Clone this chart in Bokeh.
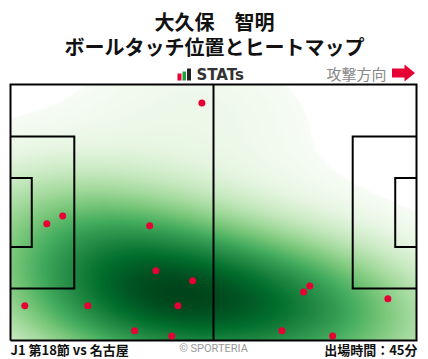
import numpy as np
from bokeh.plotting import figure
from bokeh.models import Range1d, LinearColorMapper, Label, BoxAnnotation, PolyAnnotation
from bokeh.palettes import Greens256
from bokeh.embed import file_html
from bokeh.resources import INLINE

# ---------------- data ----------------
PITCH_LENGTH = 105.0
PITCH_WIDTH = 68.0

touch_x = [49.5, 13.5, 9.4, 36.0, 37.6, 47.1, 3.7, 20.0, 43.3, 32.1, 41.7, 77.4, 75.8, 97.6, 70.2, 83.3]
touch_y = [63.1, 33.1, 31.0, 30.5, 18.5, 15.9, 9.2, 9.2, 9.2, 2.6, 1.2, 14.5, 12.9, 11.1, 2.6, 1.2]

title_line1 = "大久保　智明"
title_line2 = "ボールタッチ位置とヒートマップ"
logo_text = "STATs"
direction_text = "攻撃方向"
match_text = "J1 第18節 vs 名古屋"
credit_text = "© SPORTERIA"
minutes_text = "出場時間：45分"

# ---------------- layout ----------------
W, H = 428, 359
OX, OY = 0, 0          # page offset of the figure
PL, PT = 10, 84        # pitch left / top in page pixels
PW, PH = 406, 256      # pitch size in pixels
PX_X = PW / PITCH_LENGTH
PX_Y = PH / PITCH_WIDTH
x0 = -(PL - OX) / PX_X
x1 = PITCH_LENGTH + (OX + W - PL - PW) / PX_X
y0 = -(OY + H - PT - PH) / PX_Y
y1 = PITCH_WIDTH + (PT - OY) / PX_Y

p = figure(width=W, height=H, x_range=Range1d(x0, x1), y_range=Range1d(y0, y1),
           output_backend="svg", toolbar_location=None,
           x_axis_location=None, y_axis_location=None,
           min_border=0, outline_line_color=None,
           background_fill_color="white", border_fill_color="white")
p.grid.visible = False

# ---------------- heat map (KDE of touches) ----------------
pts = np.vstack([touch_x, touch_y])
n = pts.shape[1]
factor = n ** (-1.0 / 6.0) * 1.45
cov = np.cov(pts) * factor ** 2
inv = np.linalg.inv(cov)


def kde(X, Y):
    dx = X[..., None] - pts[0][None, None, :]
    dy = Y[..., None] - pts[1][None, None, :]
    q = inv[0, 0] * dx * dx + 2 * inv[0, 1] * dx * dy + inv[1, 1] * dy * dy
    return np.exp(-0.5 * q).sum(axis=2)


# wider grid (as a KDE plot's "cut" would) for the 5 % iso-proportion threshold
ex, ey = np.meshgrid(np.linspace(-30, 135, 260), np.linspace(-30, 98, 200))
srt = np.sort(kde(ex, ey).ravel())
cum = np.cumsum(srt)
cum /= cum[-1]
d_thresh = np.interp(0.05, cum, srt)

gx = np.linspace(0, PITCH_LENGTH, PW)
gy = np.linspace(0, PITCH_WIDTH, PH)
X, Y = np.meshgrid(gx, gy)
dens = kde(X, Y)

mapper = LinearColorMapper(palette=list(reversed(Greens256)), low=d_thresh, high=dens.max(),
                           low_color="white")
p.image(image=[dens], x=0, y=0, dw=PITCH_LENGTH, dh=PITCH_WIDTH, color_mapper=mapper)

# ---------------- pitch lines ----------------
L, Wd = PITCH_LENGTH, PITCH_WIDTH
pa_d, pa_w = 16.5, 40.32
ga_d, ga_w = 5.5, 18.32
cy = Wd / 2
lines_x = [
    [0, L, L, 0, 0],
    [L / 2, L / 2],
    [0, pa_d, pa_d, 0],
    [0, ga_d, ga_d, 0],
    [L, L - pa_d, L - pa_d, L],
    [L, L - ga_d, L - ga_d, L],
]
lines_y = [
    [0, 0, Wd, Wd, 0],
    [0, Wd],
    [cy + pa_w / 2, cy + pa_w / 2, cy - pa_w / 2, cy - pa_w / 2],
    [cy + ga_w / 2, cy + ga_w / 2, cy - ga_w / 2, cy - ga_w / 2],
    [cy + pa_w / 2, cy + pa_w / 2, cy - pa_w / 2, cy - pa_w / 2],
    [cy + ga_w / 2, cy + ga_w / 2, cy - ga_w / 2, cy - ga_w / 2],
]
p.multi_line(lines_x, lines_y, line_color="black", line_width=2, line_join="miter")

# ---------------- touches ----------------
p.scatter(touch_x, touch_y, size=7, fill_color="#e60033", line_color=None)


# ---------------- texts ----------------
def sy(page_y):
    return H + OY - page_y


def sx(page_x):
    return page_x - OX


FONT = "Noto Sans CJK JP"
p.add_layout(Label(x=sx(214), y=sy(21), x_units="screen", y_units="screen", text=title_line1,
                   text_font=FONT, text_font_size="20px", text_font_style="bold",
                   text_align="center", text_baseline="middle", text_color="#111111"))
p.add_layout(Label(x=sx(214), y=sy(46), x_units="screen", y_units="screen", text=title_line2,
                   text_font=FONT, text_font_size="20px", text_font_style="bold",
                   text_align="center", text_baseline="middle", text_color="#111111"))

# STATs logo
p.add_layout(Label(x=sx(196), y=sy(74.5), x_units="screen", y_units="screen", text=logo_text,
                   text_font="DejaVu Sans", text_font_size="15px", text_font_style="bold",
                   text_align="left", text_baseline="middle", text_color="#333333"))
for (l, r, t, b, c) in [(177, 181, 73, 80, "#e60033"), (182, 185.5, 71, 80, "#1f9e3a"),
                        (186.5, 190.5, 68, 80, "#222222")]:
    p.add_layout(BoxAnnotation(left=sx(l), right=sx(r), top=sy(t), bottom=sy(b),
                               left_units="screen", right_units="screen",
                               top_units="screen", bottom_units="screen",
                               fill_color=c, fill_alpha=1, line_color=None))

p.add_layout(Label(x=sx(326), y=sy(72.5), x_units="screen", y_units="screen", text=direction_text,
                   text_font=FONT, text_font_size="15px",
                   text_align="left", text_baseline="middle", text_color="#888888"))
ax = [391.5, 404, 404, 414.5, 404, 404, 391.5]
ay = [68, 68, 64, 72.5, 81, 77, 77]
p.add_layout(PolyAnnotation(xs=[sx(v) for v in ax], ys=[sy(v) for v in ay],
                            xs_units="screen", ys_units="screen",
                            fill_color="#e60033", fill_alpha=1, line_color=None))

# footer
p.add_layout(Label(x=sx(10), y=sy(348.5), x_units="screen", y_units="screen", text=match_text,
                   text_font=FONT, text_font_size="13px", text_font_style="bold",
                   text_align="left", text_baseline="middle", text_color="#111111"))
p.add_layout(Label(x=sx(213), y=sy(347.5), x_units="screen", y_units="screen", text=credit_text,
                   text_font="Roboto", text_font_size="11px",
                   text_align="center", text_baseline="middle", text_color="#999999"))
p.add_layout(Label(x=sx(417), y=sy(348.5), x_units="screen", y_units="screen", text=minutes_text,
                   text_font=FONT, text_font_size="13px", text_font_style="bold",
                   text_align="right", text_baseline="middle", text_color="#111111"))

open("out.html", "w").write(file_html(p, INLINE))
